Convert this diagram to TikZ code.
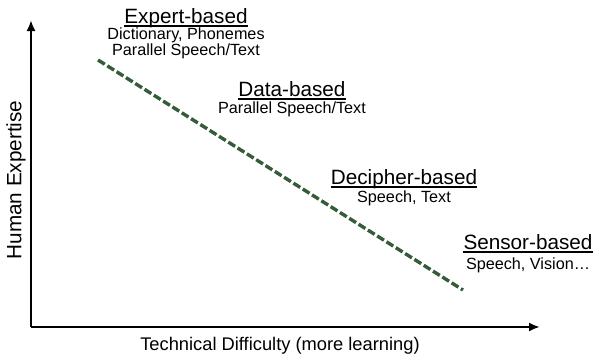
\documentclass[tikz,border=0pt]{standalone}
\usepackage{fontspec}
\setmainfont{Liberation Sans}
\usetikzlibrary{arrows.meta}
\definecolor{trendgreen}{RGB}{52,92,56}
\tikzset{
  axis/.style={line width=2.8pt, -{Latex[length=11pt,width=9pt]}},
  title/.style={inner sep=0pt, anchor=base, font=\fontsize{20.7}{24}\selectfont},
  sub/.style={inner sep=0pt, anchor=base, font=\fontsize{16.2}{19}\selectfont},
  axislabel/.style={inner sep=0pt, font=\fontsize{18.3}{22}\selectfont},
  uline/.style={line width=1.4pt},
  trend/.style={trendgreen, line width=3.4pt, dash pattern=on 8pt off 3pt}
}
\begin{document}
\begin{tikzpicture}[x=1pt,y=1pt]
        \useasboundingbox (0,0) rectangle (595,360);
        % axes
        \coordinate (o) at (31,33);
        \coordinate (ytop) at (31,340);
        \coordinate (xend) at (540,33);
        \draw[axis] (o) -- (ytop);
        \draw[axis] (o) -- (xend);
        \node[axislabel, rotate=90, font=\fontsize{20.7}{24}\selectfont] (ylabel) at (16,180) {Human Expertise};
        \node[axislabel] (xlabel) at (280,14) {Technical Difficulty (more learning)};
        % trend line
        \coordinate (tstart) at (98,300);
        \coordinate (tend) at (463,70);
        \draw[trend] (tstart) -- (tend);
        % approaches
        \node[title] (expert) at (186,337) {Expert-based};
        \draw[uline] ([yshift=-3pt]expert.base west) -- ([yshift=-3pt]expert.base east);
        \node[sub] (expertsub1) at (186,321) {Dictionary, Phonemes};
        \node[sub] (expertsub2) at (186,305) {Parallel Speech/Text};
        \node[title] (data) at (292,264) {Data-based};
        \draw[uline] ([yshift=-3pt]data.base west) -- ([yshift=-3pt]data.base east);
        \node[sub] (datasub) at (292,247) {Parallel Speech/Text};
        \node[title] (decipher) at (404,176) {Decipher-based};
        \draw[uline] ([yshift=-3pt]decipher.base west) -- ([yshift=-3pt]decipher.base east);
        \node[sub] (deciphersub) at (404,158) {Speech, Text};
        \node[title] (sensor) at (528,111) {Sensor-based};
        \draw[uline] ([yshift=-3pt]sensor.base west) -- ([yshift=-3pt]sensor.base east);
        \node[sub] (sensorsub) at (528,91) {Speech, Vision\ldots};
    \end{tikzpicture}
\end{document}
